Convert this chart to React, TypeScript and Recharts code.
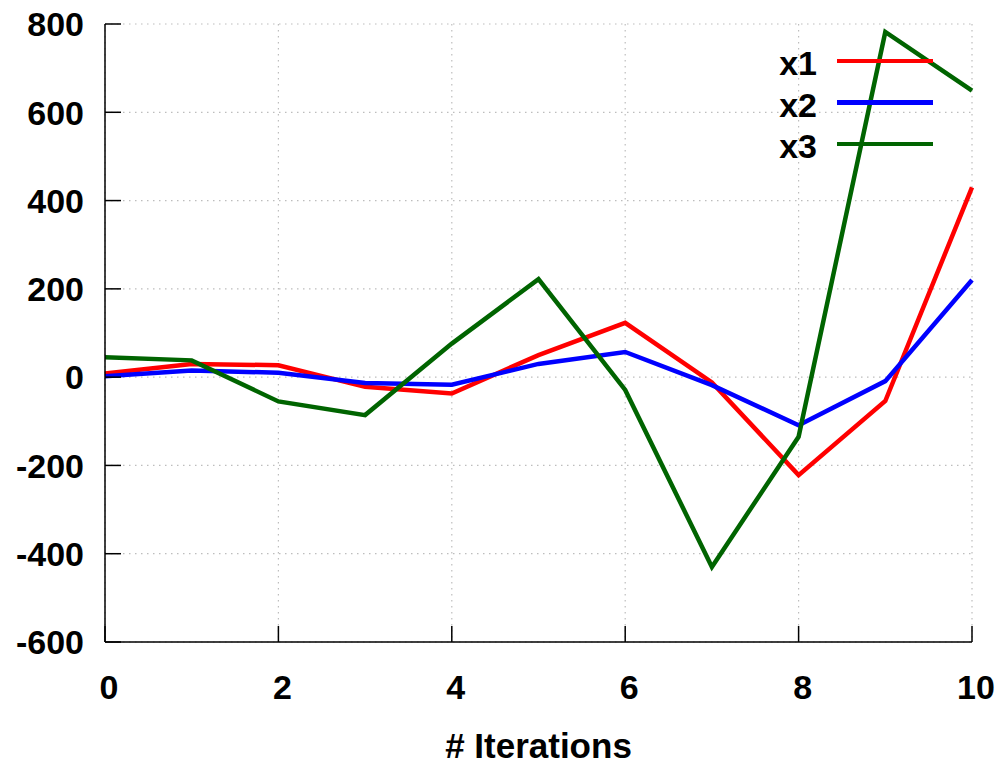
import { LineChart, Line, XAxis, YAxis, CartesianGrid, Legend, Label } from "recharts"

const iterations = [0, 1, 2, 3, 4, 5, 6, 7, 8, 9, 10]
const x1 = [8, 30, 27, -22, -37, 50, 123, -12, -222, -54, 430]
const x2 = [2, 15, 10, -13, -17, 30, 57, -18, -109, -9, 220]
const x3 = [45, 38, -55, -86, 76, 222, -29, -430, -135, 782, 649]

const xTicks = [0, 2, 4, 6, 8, 10]
const yTicks = [-600, -400, -200, 0, 200, 400, 600, 800]

const seriesInfo = [
  { key: "x1", color: "#ff0000" },
  { key: "x2", color: "#0000ff" },
  { key: "x3", color: "#006400" },
]

const data = iterations.map((it, i) => ({ it, x1: x1[i], x2: x2[i], x3: x3[i] }))

const FONT = "'Liberation Sans', Arial, sans-serif"
const TICK = 16
const AXIS_COLOR = "#000"
const FS = 34

function BottomTick(props: any) {
  const { x, y, payload } = props
  return (
    <g>
      <line x1={x} y1={y} x2={x} y2={y - TICK} stroke={AXIS_COLOR} strokeWidth={1.5} />
      <text x={x + 4} y={y + 57} textAnchor="middle" fontFamily={FONT} fontWeight="bold" fontSize={FS} fill="#000">
        {payload.value}
      </text>
    </g>
  )
}

function TopTick(props: any) {
  const { x, y } = props
  return <line x1={x} y1={y} x2={x} y2={y + TICK} stroke={AXIS_COLOR} strokeWidth={1.5} />
}

function LeftTick(props: any) {
  const { x, y, payload } = props
  return (
    <g>
      <line x1={x} y1={y} x2={x + TICK} y2={y} stroke={AXIS_COLOR} strokeWidth={1.5} />
      <text x={x - 21} y={y} dy="0.36em" textAnchor="end" fontFamily={FONT} fontWeight="bold" fontSize={FS} fill="#000">
        {payload.value}
      </text>
    </g>
  )
}

function RightTick(props: any) {
  const { x, y } = props
  return <line x1={x} y1={y} x2={x - TICK} y2={y} stroke={AXIS_COLOR} strokeWidth={1.5} />
}

function LegendBox() {
  return (
    <div style={{ fontFamily: FONT, fontWeight: "bold", fontSize: FS, color: "#000" }}>
      {seriesInfo.map((s) => (
        <div key={s.key} style={{ display: "flex", alignItems: "center", height: 41.5 }}>
          <span style={{ width: 57, textAlign: "right", lineHeight: "41.5px", position: "relative", top: 3 }}>{s.key}</span>
          <span style={{ marginLeft: 20, width: 96, height: 4.5, background: s.color, display: "inline-block" }} />
        </div>
      ))}
    </div>
  )
}

export default function App() {
  return (
    <div style={{ position: "absolute", left: 0, top: 0, width: 999, height: 764, background: "#fff" }}>
      <LineChart width={999} height={764} data={data} margin={{ top: 24, right: 27, bottom: 0, left: 5 }}>
        <CartesianGrid stroke="#bdbdbd" strokeDasharray="1.5 4.5" strokeWidth={1.2} />
        <XAxis
          dataKey="it"
          type="number"
          domain={[0, 10]}
          ticks={xTicks}
          height={122}
          tickSize={0}
          tickMargin={0}
          tickLine={false}
          axisLine={{ stroke: AXIS_COLOR, strokeWidth: 1.5 }}
          tick={<BottomTick />}
          interval={0}
        >
          <Label
            value="# Iterations"
            position="insideBottom"
            offset={6}
            style={{ fontFamily: FONT, fontWeight: "bold", fontSize: 35, fill: "#000" }}
          />
        </XAxis>
        <XAxis
          xAxisId="top"
          orientation="top"
          dataKey="it"
          type="number"
          domain={[0, 10]}
          ticks={xTicks}
          height={0}
          tickSize={0}
          tickMargin={0}
          tickLine={false}
          axisLine={{ stroke: AXIS_COLOR, strokeWidth: 1.5 }}
          tick={<TopTick />}
          interval={0}
        />
        <YAxis
          type="number"
          domain={[-600, 800]}
          ticks={yTicks}
          width={100}
          tickSize={0}
          tickMargin={0}
          tickLine={false}
          axisLine={{ stroke: AXIS_COLOR, strokeWidth: 1.5 }}
          tick={<LeftTick />}
          interval={0}
        />
        <YAxis
          yAxisId="right"
          orientation="right"
          type="number"
          domain={[-600, 800]}
          ticks={yTicks}
          width={0}
          tickSize={0}
          tickMargin={0}
          tickLine={false}
          axisLine={{ stroke: AXIS_COLOR, strokeWidth: 1.5 }}
          tick={<RightTick />}
          interval={0}
        />
        {seriesInfo.map((s) => (
          <Line
            key={s.key}
            type="linear"
            dataKey={s.key}
            stroke={s.color}
            strokeWidth={4.5}
            dot={false}
            isAnimationActive={false}
          />
        ))}
        <Legend
          layout="vertical"
          align="center"
          verticalAlign="middle"
          content={<LegendBox />}
          wrapperStyle={{ left: 760, top: 40, width: 200, height: "auto" }}
        />
      </LineChart>
    </div>
  )
}
